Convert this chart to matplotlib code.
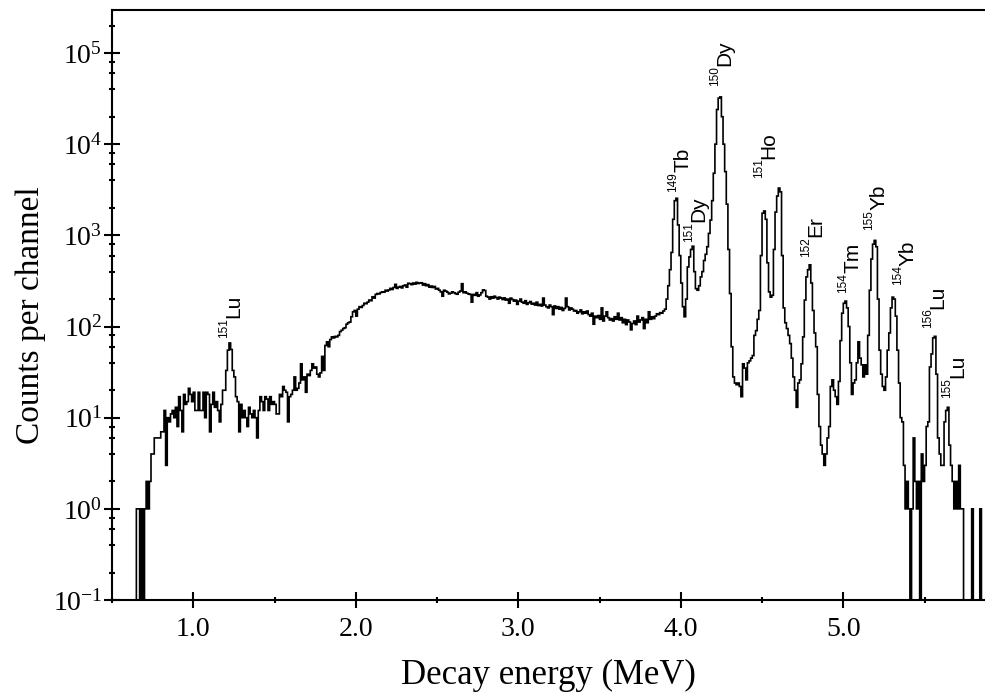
import numpy as np
import matplotlib
matplotlib.use("Agg")
import matplotlib.pyplot as plt
from matplotlib.ticker import MultipleLocator, FormatStrFormatter, LogLocator, NullFormatter

plt.rcParams['font.family'] = ['Liberation Serif', 'DejaVu Serif']
plt.rcParams['mathtext.fontset'] = 'stix'

# alpha spectrum, counts per 10 keV channel; first channel starts at 0.65 MeV
bin_start = 0.65
bin_width = 0.01
counts = [
    1, 1, 0, 1, 0,                                              # 0.65
    1, 2, 1, 2, 4, 4, 6, 6, 6, 6,                               # 0.70
    7, 7, 12, 3, 10, 9, 11, 12, 10, 13,                         # 0.80
    8, 17, 12, 7, 18, 14, 15, 21, 18, 15,                       # 0.90
    19, 12, 12, 19, 12, 12, 19, 10, 19, 18,                     # 1.00
    7, 14, 19, 13, 15, 12, 9, 14, 20, 20,                       # 1.10
    33, 55, 66, 56, 33, 28, 17, 15, 7, 14,                      # 1.20
    10, 12, 10, 8, 13, 11, 10, 12, 10, 6,                       # 1.30
    12, 17, 15, 12, 17, 16, 12, 17, 14, 15,                     # 1.40
    14, 11, 11, 18, 17, 22, 20, 19, 9, 17,                      # 1.50
    18, 20, 28, 20, 21, 24, 39, 26, 28, 19,                     # 1.60
    30, 29, 33, 39, 35, 36, 30, 28, 31, 47,                     # 1.70
    33, 62, 68, 60, 72, 77, 75, 78, 77, 80,                     # 1.80
    88, 91, 95, 97, 106, 110, 112, 128, 145, 150,               # 1.90
    130, 155, 165, 162, 170, 180, 178, 185, 195, 192,           # 2.00
    212, 205, 225, 230, 228, 236, 240, 238, 250, 245,           # 2.10
    252, 262, 255, 268, 290, 262, 270, 275, 265, 280,           # 2.20
    285, 270, 298, 295, 288, 300, 292, 305, 296, 300,           # 2.30
    302, 285, 295, 280, 288, 270, 278, 268, 275, 258,           # 2.40
    262, 250, 240, 215, 250, 245, 238, 228, 232, 240,           # 2.50
    235, 230, 226, 238, 245, 295, 235, 240, 232, 228,           # 2.60
    225, 185, 225, 220, 235, 215, 222, 235, 252, 248,           # 2.70
    215, 210, 200, 212, 205, 215, 208, 200, 210, 205,           # 2.80
    198, 206, 195, 200, 180, 205, 198, 190, 195, 175,           # 2.90
    190, 200, 185, 180, 192, 175, 182, 188, 176, 180,           # 3.00
    172, 185, 170, 175, 168, 205, 172, 165, 160, 172,           # 3.10
    165, 135, 168, 158, 165, 155, 162, 150, 158, 205,           # 3.20
    165, 152, 160, 155, 148, 150, 140, 145, 152, 138,           # 3.30
    145, 140, 148, 135, 130, 140, 106, 130, 125, 132,           # 3.40
    120, 160, 115, 130, 145, 125, 118, 122, 115, 128,           # 3.50
    120, 140, 118, 125, 110, 120, 105, 118, 112, 92,            # 3.60
    108, 115, 105, 130, 112, 118, 125, 95, 120, 110,            # 3.70
    145, 120, 128, 122, 130, 138, 135, 142, 140, 148,           # 3.80
    155, 200, 280, 420, 650, 1500, 2400, 2550, 1300, 600,       # 3.90
    300, 165, 128, 200, 450, 580, 700, 760, 400, 260,           # 4.00
    250, 280, 350, 400, 530, 620, 750, 1050, 1470, 2400,        # 4.10
    4800, 10000, 24000, 32000, 33000, 20000, 10000, 5000, 2200, 700,  # 4.20
    230, 60, 28, 24, 23, 24, 22, 17, 39, 35,                    # 4.30
    26, 40, 42, 45, 48, 80, 90, 120, 150, 600,                  # 4.40
    1750, 1850, 1500, 500, 240, 210, 220, 700, 1800, 2700,      # 4.50
    3300, 3000, 600, 160, 110, 95, 80, 65, 45, 28,              # 4.60
    20, 13, 24, 26, 39, 77, 195, 350, 420, 475,                 # 4.70
    300, 150, 85, 60, 18, 8, 5, 4, 3, 4,                        # 4.80
    6, 8, 22, 26, 20, 17, 14, 25, 70, 140,                      # 4.90
    180, 190, 160, 100, 40, 18, 24, 26, 40, 68,                 # 5.00
    45, 38, 28, 38, 30, 80, 250, 550, 800, 880,                 # 5.10
    750, 200, 55, 30, 22, 20, 28, 55, 85, 160,                  # 5.20
    210, 200, 130, 55, 24, 10, 9, 3, 1, 2,                      # 5.30
    1, 0, 1, 6, 2, 1, 2, 0, 4, 2,                               # 5.40
    3, 8, 9, 36, 50, 75, 78, 30, 6, 4,                          # 5.50
    3, 3, 9, 12, 13, 5, 3, 2, 1, 2,                             # 5.60
    1, 3, 1, 1, 0, 0, 0, 0, 0, 1,                               # 5.70
    0, 0, 0, 0, 1, 0,                                           # 5.80
]

# decade ticks shown on the count axis
y_decades = [1e-1, 1e0, 1e1, 1e2, 1e3, 1e4, 1e5]

# peak identifications: mass number, element, anchor (energy, counts)
label_mass = ['151', '149', '151', '150', '151', '152', '154', '155', '154', '156', '155']
label_elem = ['Lu', 'Tb', 'Dy', 'Dy', 'Ho', 'Er', 'Tm', 'Yb', 'Yb', 'Lu', 'Lu']
label_x = [1.19, 3.95, 4.05, 4.21, 4.48, 4.77, 5.00, 5.16, 5.335, 5.52, 5.64]
label_y = [75, 3000, 850, 44000, 4250, 580, 235, 1150, 285, 96, 16.5]


def main():
    counts_arr = np.array(counts, dtype=float)
    edges = bin_start + bin_width * np.arange(len(counts_arr) + 1)

    fig = plt.figure(figsize=(9.85, 6.92), dpi=100)
    ax = fig.add_axes([0.1137, 0.1329, 0.8863, 0.8526])

    ax.stairs(counts_arr, edges, color='black', linewidth=1.2)

    ax.set_yscale('log', nonpositive='clip')
    ax.set_xlim(0.5, 5.872)
    ax.set_ylim(0.1, 2.96e5)

    ax.xaxis.set_major_locator(MultipleLocator(1.0))
    ax.xaxis.set_minor_locator(MultipleLocator(0.5))
    ax.xaxis.set_major_formatter(FormatStrFormatter('%.1f'))
    ax.set_yticks(y_decades)
    ax.yaxis.set_minor_locator(LogLocator(base=10, subs=(2, 4, 6, 8), numticks=20))
    ax.yaxis.set_minor_formatter(NullFormatter())

    ax.tick_params(which='both', direction='inout', width=1.5, top=False, right=False)
    ax.tick_params(which='major', length=12)
    ax.tick_params(which='minor', length=5)
    ax.tick_params(axis='x', labelsize=20, pad=6)
    ax.tick_params(axis='y', labelsize=20, pad=1)

    for side in ['left', 'bottom', 'top']:
        ax.spines[side].set_linewidth(1.5)
    ax.spines['right'].set_visible(False)

    ax.set_xlabel('Decay energy (MeV)', fontsize=25)
    ax.set_ylabel('Counts per channel', fontsize=24)
    ax.xaxis.set_label_coords(0.5, -0.1)
    ax.yaxis.set_label_coords(-0.076, 0.483)

    for mass, elem, x, y in zip(label_mass, label_elem, label_x, label_y):
        ax.text(x, y, mass, rotation=90, ha='center', va='bottom',
                fontsize=8.5, family=['Liberation Sans', 'DejaVu Sans'])
        ax.annotate(elem, xy=(x, y), xytext=(7.2, 14), textcoords='offset points',
                    rotation=90, ha='center', va='bottom',
                    fontsize=15, family=['Liberation Sans', 'DejaVu Sans'])

    fig.savefig('out.png', dpi=100)


if __name__ == '__main__':
    main()
